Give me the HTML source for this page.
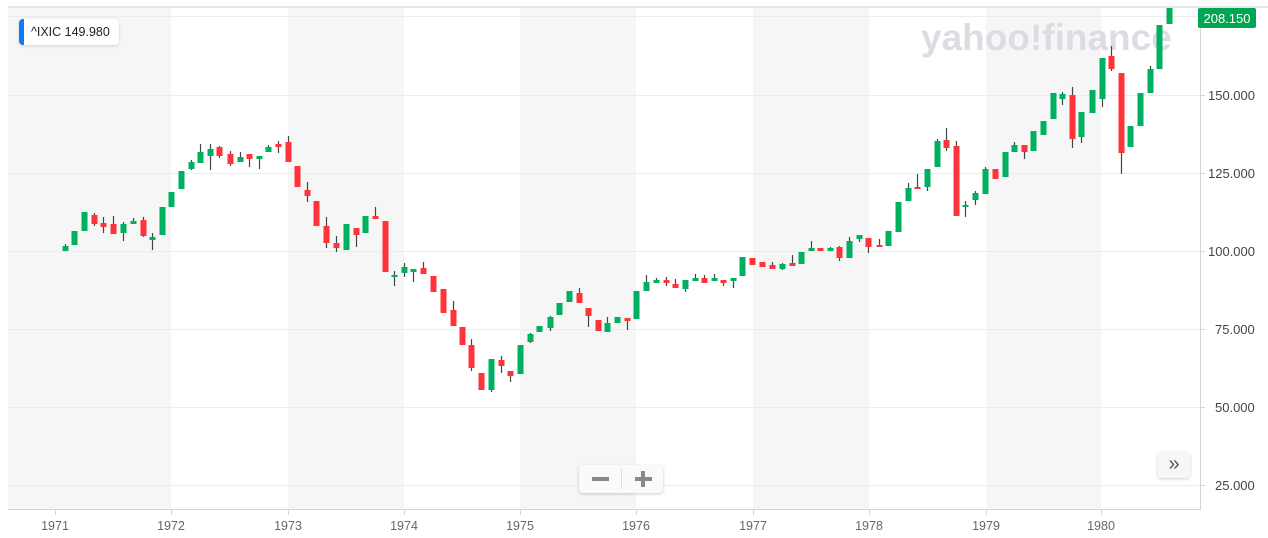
<!DOCTYPE html>
<html><head><meta charset="utf-8"><style>
body{margin:0;background:#fff;width:1268px;height:538px;overflow:hidden;font-family:"Liberation Sans",sans-serif}
</style></head><body>
<svg width="1268" height="538" xmlns="http://www.w3.org/2000/svg" style="position:absolute;left:0;top:0">
<rect x="8" y="8" width="163" height="501" fill="#f6f6f6"/>
<rect x="288" y="8" width="116" height="501" fill="#f6f6f6"/>
<rect x="520" y="8" width="116" height="501" fill="#f6f6f6"/>
<rect x="753" y="8" width="116" height="501" fill="#f6f6f6"/>
<rect x="986" y="8" width="115" height="501" fill="#f6f6f6"/>
<g stroke="#ececec" stroke-width="1">
<line x1="8" x2="1200" y1="16.5" y2="16.5"/>
<line x1="8" x2="1200" y1="95.5" y2="95.5"/>
<line x1="8" x2="1200" y1="173.5" y2="173.5"/>
<line x1="8" x2="1200" y1="251.5" y2="251.5"/>
<line x1="8" x2="1200" y1="329.5" y2="329.5"/>
<line x1="8" x2="1200" y1="407.5" y2="407.5"/>
<line x1="8" x2="1200" y1="485.5" y2="485.5"/>
</g>
<rect x="8" y="6" width="1260" height="2" fill="#e3e4ea"/>
<line x1="8" x2="1200" y1="509.5" y2="509.5" stroke="#d5d5d5"/>
<line x1="1200.5" x2="1200.5" y1="8" y2="510" stroke="#d5d5d5"/>
<g stroke="#d5d5d5">
<line x1="55.5" x2="55.5" y1="509" y2="515"/><line x1="171.5" x2="171.5" y1="509" y2="515"/><line x1="288.5" x2="288.5" y1="509" y2="515"/><line x1="404.5" x2="404.5" y1="509" y2="515"/><line x1="520.5" x2="520.5" y1="509" y2="515"/><line x1="636.5" x2="636.5" y1="509" y2="515"/><line x1="753.5" x2="753.5" y1="509" y2="515"/><line x1="869.5" x2="869.5" y1="509" y2="515"/><line x1="986.5" x2="986.5" y1="509" y2="515"/><line x1="1101.5" x2="1101.5" y1="509" y2="515"/>
<line x1="1200" x2="1205" y1="95.5" y2="95.5"/><line x1="1200" x2="1205" y1="173.5" y2="173.5"/><line x1="1200" x2="1205" y1="251.5" y2="251.5"/><line x1="1200" x2="1205" y1="329.5" y2="329.5"/><line x1="1200" x2="1205" y1="407.5" y2="407.5"/><line x1="1200" x2="1205" y1="485.5" y2="485.5"/>
</g>
<g font-size="12.5" fill="#666" text-anchor="middle">
<text x="55" y="530">1971</text><text x="171" y="530">1972</text><text x="288" y="530">1973</text><text x="404" y="530">1974</text><text x="520" y="530">1975</text><text x="636" y="530">1976</text><text x="753" y="530">1977</text><text x="869" y="530">1978</text><text x="986" y="530">1979</text><text x="1101" y="530">1980</text>
</g>
<g font-size="13" fill="#444">
<text x="1208" y="100">150.000</text><text x="1208" y="178">125.000</text><text x="1208" y="256">100.000</text><text x="1215" y="334">75.000</text><text x="1215" y="412">50.000</text><text x="1215" y="490">25.000</text>
</g>
<text x="921" y="50" font-size="37" font-weight="bold" fill="#dcdde2" letter-spacing="0">yahoo!finance</text>
<g id="c"></g>
<rect x="1198" y="8" width="58" height="20" rx="2" fill="#00a651"/>
<text x="1227" y="23" font-size="13" fill="#fff" text-anchor="middle">208.150</text>
</svg>
<div style="position:absolute;left:19px;top:19px;width:100px;height:26px;background:#fff;border-radius:4px;box-shadow:0 1px 3px rgba(0,0,0,.15);overflow:hidden">
<div style="position:absolute;left:0;top:0;width:5px;height:26px;background:#0f7bf5"></div>
<div style="position:absolute;left:12px;top:6px;font-size:12.5px;color:#222">^IXIC 149.980</div></div>
<div style="position:absolute;left:579px;top:465px;width:84px;height:28px;background:#fafafa;border-radius:4px;box-shadow:0 1px 3px rgba(0,0,0,.2)">
<div style="position:absolute;left:42px;top:4px;width:1px;height:20px;background:#ddd"></div>
<div style="position:absolute;left:13px;top:12px;width:17px;height:4px;background:#888"></div>
<div style="position:absolute;left:56px;top:12px;width:17px;height:4px;background:#888"></div>
<div style="position:absolute;left:62px;top:6px;width:4px;height:16px;background:#888"></div></div>
<div style="position:absolute;left:1158px;top:452px;width:32px;height:26px;background:#f7f7f7;border-radius:4px;box-shadow:0 1px 3px rgba(0,0,0,.2);text-align:center;font-size:20px;line-height:24px;color:#555">»</div>
<script>
var d=[[65,246,251,244,251,1],[74,231,245,231,245,1],[84,212,231,212,231,1],[94,215,224,213,226,0],[103,223,227,217,233,0],[113,224,234,216,234,0],[123,224,233,222,241,1],[133,221,224,218,224,1],[143,220,236,217,237,0],[152,237,240,233,250,1],[162,207,235,207,235,1],[171,192,207,192,207,1],[181,171,189,171,189,1],[191,162,169,160,170,1],[200,152,163,144,163,1],[210,149,156,144,170,1],[219,147,156,146,158,0],[230,154,164,151,166,0],[240,157,162,152,162,1],[249,154,159,154,167,0],[259,156,159,156,169,1],[268,147,152,145,152,1],[278,144,147,141,153,0],[288,142,162,136,162,0],[297,166,187,166,187,0],[307,190,196,182,202,0],[316,201,226,201,226,0],[326,226,243,217,248,0],[336,243,248,236,252,0],[346,224,250,224,250,1],[356,228,235,228,247,0],[365,216,233,216,233,1],[375,216,219,207,219,0],[385,221,272,221,272,0],[394,275,277,271,286,1],[404,267,273,263,277,1],[413,269,272,269,282,1],[423,268,274,262,274,0],[433,276,292,276,292,0],[443,289,313,289,313,0],[453,310,326,301,326,0],[462,327,345,327,345,0],[471,345,368,339,371,0],[481,373,390,373,390,0],[491,359,390,359,392,1],[501,360,366,356,373,0],[510,371,376,371,382,0],[520,345,374,345,374,1],[530,334,342,333,343,1],[539,326,332,326,332,1],[550,317,328,316,331,1],[559,303,315,303,315,1],[569,291,302,291,302,1],[579,293,303,288,303,0],[588,308,316,308,327,0],[598,320,331,320,331,0],[607,323,332,317,332,1],[617,317,323,317,323,1],[627,318,321,318,330,0],[636,291,319,291,319,1],[646,282,291,275,291,1],[656,280,283,278,283,1],[666,280,283,277,286,0],[675,284,288,279,288,0],[685,280,289,280,292,1],[695,278,281,274,281,1],[704,278,283,275,283,0],[714,278,281,274,281,1],[723,280,283,280,286,0],[733,278,281,278,288,1],[742,257,276,257,276,1],[752,258,265,258,265,0],[762,262,267,262,267,0],[772,265,269,262,269,0],[782,264,269,263,270,1],[792,263,266,255,266,0],[801,252,264,252,264,1],[811,248,251,241,251,1],[820,248,251,248,251,0],[830,248,251,247,251,1],[839,247,258,246,261,0],[849,241,258,237,258,1],[859,235,239,235,242,1],[868,238,247,238,253,0],[879,245,247,239,247,0],[888,231,246,231,246,1],[898,202,232,202,232,1],[908,188,201,183,201,1],[917,187,189,174,189,0],[927,169,187,169,191,1],[937,141,167,139,167,1],[946,140,148,128,151,0],[956,146,216,141,216,0],[965,205,207,201,217,1],[975,193,200,191,205,1],[985,169,194,167,194,1],[995,169,179,169,179,0],[1005,152,177,152,177,1],[1014,145,152,142,152,1],[1024,145,152,145,159,0],[1033,131,151,131,151,1],[1043,121,135,121,135,1],[1053,93,119,93,119,1],[1062,94,99,92,105,1],[1072,95,139,87,148,0],[1081,112,137,112,143,1],[1092,90,113,90,113,1],[1102,58,99,58,107,1],[1111,56,69,46,71,0],[1121,73,153,73,174,0],[1130,126,147,126,147,1],[1140,93,126,93,126,1],[1150,69,93,66,93,1],[1159,25,69,25,69,1],[1169,8,24,8,24,1]];
var s='';d.forEach(function(c){var col=c[5]?'#00b061':'#ff333a';
s+='<line x1="'+(c[0]+.5)+'" x2="'+(c[0]+.5)+'" y1="'+c[3]+'" y2="'+c[4]+'" stroke="#444" stroke-width="1.2"/>';
s+='<rect x="'+(c[0]-2.5)+'" y="'+c[1]+'" width="6" height="'+Math.max(2,c[2]-c[1])+'" fill="'+col+'"/>';});
document.getElementById('c').innerHTML=s;
</script>
</body></html>
